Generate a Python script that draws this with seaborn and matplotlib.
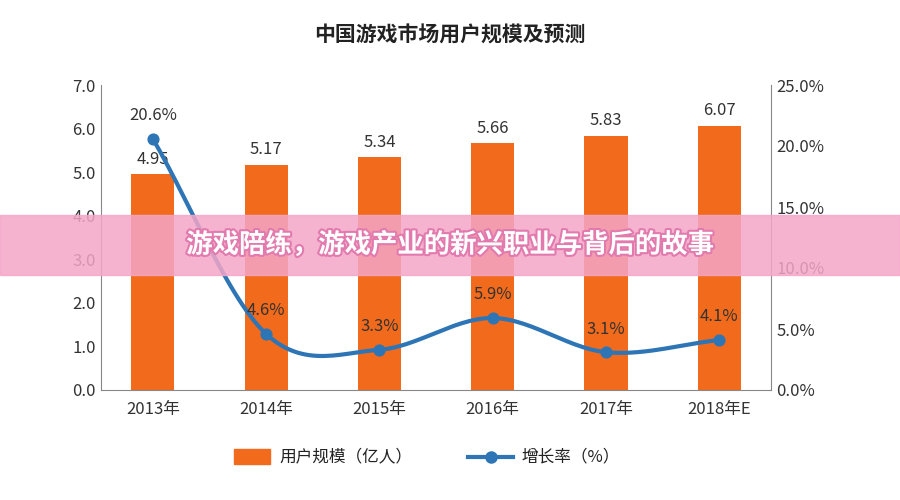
import numpy as np
import pandas as pd
import matplotlib
matplotlib.use("Agg")
import matplotlib.pyplot as plt
import matplotlib.patheffects as pe
from matplotlib import font_manager
import seaborn as sns

years = ["2013年", "2014年", "2015年", "2016年", "2017年", "2018年E"]
users = [4.95, 5.17, 5.34, 5.66, 5.83, 6.07]
growth = [20.6, 4.6, 3.3, 5.9, 3.1, 4.1]
title = "中国游戏市场用户规模及预测"
banner = "游戏陪练，游戏产业的新兴职业与背后的故事"

names = {f.name for f in font_manager.fontManager.ttflist}
cjk = [n for n in ["Noto Sans CJK SC", "Noto Sans CJK JP", "Noto Sans CJK TC", "Noto Sans CJK KR"] if n in names]
plt.rcParams["font.family"] = "sans-serif"
plt.rcParams["font.sans-serif"] = cjk + ["DejaVu Sans"]
plt.rcParams["axes.unicode_minus"] = False

fig = plt.figure(figsize=(9, 5), dpi=100)
ax = fig.add_axes([0.112, 0.22, 0.745, 0.61])
df = pd.DataFrame({"year": years, "users": users})
sns.barplot(data=df, x="year", y="users", color="#F26A1B", width=0.38, ax=ax, saturation=1)
ax.set_ylim(0, 7)
ax.set_yticks(np.arange(0, 7.5, 1))
ax.set_yticklabels([f"{v:.1f}" for v in np.arange(0, 7.5, 1)], fontsize=12, color="#333")
ax.set_xlabel(""); ax.set_ylabel("")
ax.tick_params(axis="x", labelsize=12, colors="#333", length=0, pad=8)
ax.tick_params(axis="y", length=0)
for s in ["top", "right"]:
    ax.spines[s].set_visible(False)
ax.spines["left"].set_color("#888"); ax.spines["bottom"].set_color("#888")
for i, v in enumerate(users):
    ax.text(i, v + 0.15, f"{v:.2f}", ha="center", va="bottom", fontsize=12, color="#333")

ax2 = ax.twinx()
ax2.set_ylim(0, 25)
ax2.set_yticks(np.arange(0, 26, 5))
ax2.set_yticklabels([f"{v:.1f}%" for v in np.arange(0, 26, 5)], fontsize=12, color="#333")
ax2.tick_params(axis="y", length=0)
for s in ["top", "left", "bottom"]:
    ax2.spines[s].set_visible(False)
ax2.spines["right"].set_color("#888")
# Catmull-Rom smoothing for rendering
x = np.arange(len(growth), dtype=float); y = np.array(growth, dtype=float)
px = np.concatenate([[2*x[0]-x[1]], x, [2*x[-1]-x[-2]]])
py = np.concatenate([[2*y[0]-y[1]], y, [2*y[-1]-y[-2]]])
xs, ys = [], []
t = np.linspace(0, 1, 30)
for i in range(1, len(px) - 2):
    for arr, out in ((px, xs), (py, ys)):
        p0, p1, p2, p3 = arr[i-1:i+3]
        out.extend(0.5*((2*p1) + (-p0+p2)*t + (2*p0-5*p1+4*p2-p3)*t**2 + (-p0+3*p1-3*p2+p3)*t**3))
ax2.plot(xs, ys, color="#2E75B6", lw=3)
ax2.scatter(x, y, color="#2E75B6", s=60, zorder=3)
for i, v in enumerate(growth):
    ax2.text(i, v + 1.2, f"{v}%", ha="center", va="bottom", fontsize=12, color="#333")

fig.text(0.5, 0.93, title, ha="center", va="center", fontsize=15, fontweight="bold", color="#222")
# legend
fig.patches.append(plt.Rectangle((0.26, 0.072), 0.04, 0.03, transform=fig.transFigure, color="#F26A1B"))
fig.text(0.31, 0.087, "用户规模（亿人）", va="center", fontsize=12, color="#222")
fig.lines.append(plt.Line2D([0.52, 0.57], [0.087, 0.087], transform=fig.transFigure, color="#2E75B6", lw=3))
fig.lines.append(plt.Line2D([0.545], [0.087], transform=fig.transFigure, color="#2E75B6", marker="o", ms=8))
fig.text(0.58, 0.087, "增长率（%）", va="center", fontsize=12, color="#222")
# banner
fig.patches.append(plt.Rectangle((0, 0.45), 1, 0.12, transform=fig.transFigure, color="#F4A6C8", alpha=0.85, zorder=5))
fig.text(0.5, 0.51, banner, ha="center", va="center", fontsize=19, fontweight="bold", color="white", zorder=6,
         path_effects=[pe.withStroke(linewidth=3, foreground="#E27AAE")])
fig.savefig("out.png", dpi=100)
